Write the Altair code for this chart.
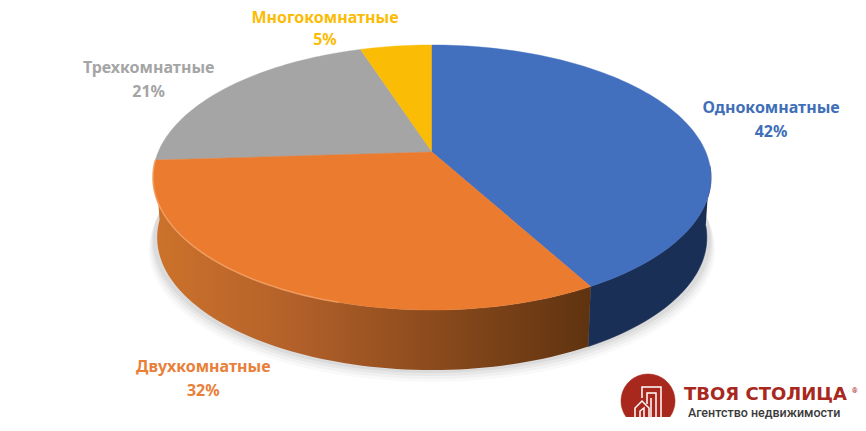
import math
import altair as alt
import pandas as pd

# --- data -----------------------------------------------------------------
categories = ["Однокомнатные", "Двухкомнатные", "Трехкомнатные", "Многокомнатные"]
shares = [42, 32, 21, 5]
colors = ["#4270BF", "#EB7B2F", "#A5A5A5", "#FBBC05"]
label_colors = ["#3F6FB8", "#E97F38", "#A5A5A5", "#FBBC05"]
brand_name = "ТВОЯ СТОЛИЦА"
brand_tag = "Агентство недвижимости"

# --- geometry of the tilted pie (image pixels) ------------------------------
W, H = 850, 415
OFF = 8
CX, CY = 432, 152      # projected pie centre
A, B, K = 273.8, 127.6, 0.1925
DEPTH = 60
BOTTOM_SCALE = 0.985
LABEL_OFFSETS = [(86, -2), (-70, 92), (-79, -7), (-71, -17)]
STEPS = 1.5  # degrees per rim sample


def rim(t_deg, scale=1.0, dy=0.0):
    t = math.radians(t_deg)
    u, v = math.sin(t), math.cos(t)
    d = 1 + K * v
    return CX + scale * A * u / d, CY + B * -v / d + dy


def arc(t0, t1, scale=1.0, dy=0.0):
    n = max(2, int(abs(t1 - t0) / STEPS) + 1)
    return [rim(t0 + (t1 - t0) * i / (n - 1), scale, dy) for i in range(n)]


x_scale = alt.Scale(domain=[OFF, OFF + W], range=[0, W], nice=False, zero=False)
y_scale = alt.Scale(domain=[OFF, OFF + H], range=[0, H], nice=False, zero=False)


def poly(points, fill, stroke_width=0.6, stroke=None, opacity=1.0, fill_on=True):
    df = pd.DataFrame(points, columns=["x", "y"])
    df["i"] = range(len(df))
    kw = dict(strokeWidth=stroke_width, opacity=opacity, clip=False, interpolate="linear")
    if fill_on:
        kw["fill"] = fill
    kw["stroke"] = stroke if stroke else (fill if isinstance(fill, str) else "#8a4a1c")
    return alt.Chart(df).mark_line(**kw).encode(
        x=alt.X("x:Q", scale=x_scale, axis=None),
        y=alt.Y("y:Q", scale=y_scale, axis=None),
        order="i:Q",
    )


def text(x, y, s, color, size, weight="bold", font="Noto Sans", align="center"):
    return alt.Chart(pd.DataFrame({"x": [x], "y": [y], "s": [s]})).mark_text(
        font=font, fontSize=size, fontWeight=weight, color=color, align=align, baseline="middle"
    ).encode(
        x=alt.X("x:Q", scale=x_scale, axis=None),
        y=alt.Y("y:Q", scale=y_scale, axis=None),
        text="s:N",
    )


# cumulative angles
bounds = [0.0]
for s in shares:
    bounds.append(bounds[-1] + s * 3.6)

layers = []

# soft shadow below the disc
for grow, dy, op in [(1.015, DEPTH + 12, 0.025), (1.01, DEPTH + 9, 0.03), (1.005, DEPTH + 6, 0.04), (1.0, DEPTH + 3, 0.05)]:
    layers.append(poly(arc(0, 360, grow, dy), "#000000", 0, "#000000", op))

# side walls
blue_wall = arc(96, bounds[1]) + arc(bounds[1], 96, BOTTOM_SCALE, DEPTH)
layers.append(poly(blue_wall, "#1A2F55", 0.6))
orange_grad = alt.Gradient(
    gradient="linear", x1=0, x2=1, y1=0, y2=0,
    stops=[
        alt.GradientStop(color="#CC722B", offset=0),
        alt.GradientStop(color="#B5622A", offset=0.3),
        alt.GradientStop(color="#8A4A1C", offset=0.65),
        alt.GradientStop(color="#5F3310", offset=1),
    ],
)
orange_wall = arc(bounds[1], bounds[2]) + arc(bounds[2], bounds[1], BOTTOM_SCALE, DEPTH)
layers.append(poly(orange_wall, orange_grad, 0))

# top faces
for i in [2, 3, 0, 1]:
    pts = [(CX, CY)] + arc(bounds[i], bounds[i + 1]) + [(CX, CY)]
    layers.append(poly(pts, colors[i], 0.4))

# rim highlight on the orange slice
layers.append(poly(arc(bounds[1] + 45, bounds[2]), None, 1.6, "#F4A165", 0.8, fill_on=False))

# labels
for i, cat in enumerate(categories):
    mid = (bounds[i] + bounds[i + 1]) / 2
    px, py = rim(mid, 1.0)
    dx, dy = LABEL_OFFSETS[i]
    lx, ly = px + dx, py + dy
    gap = 11 if i == 3 else 12
    layers.append(text(lx, ly - gap, cat, label_colors[i], 16))
    layers.append(text(lx, ly + gap, f"{shares[i]}%", label_colors[i], 16))

# logo: red disc cut at the bottom, white building lines
LOGO_CX, LOGO_CY, LOGO_R = 648, 401, 27
ang0 = math.degrees(math.asin(16 / LOGO_R))
disc = [
    (LOGO_CX + LOGO_R * math.cos(math.radians(a)), LOGO_CY - LOGO_R * math.sin(math.radians(a)))
    for a in [(-ang0) + (180 + 2 * ang0) * j / 90 for j in range(91)]
]
layers.append(poly(disc, "#A9281E", 0.5))
building = [
    [(-13, 16), (-13, 7), (-6, 0), (1, 7), (1, 16)],
    [(-8, 16), (-8, 10), (-4, 7), (-4, 16)],
    [(-6, -3), (-6, -14), (13, -14), (13, 16)],
    [(-1, 3), (-1, -8), (8, -8), (8, 16)],
    [(3, 16), (3, -3)],
]
for seg in building:
    layers.append(poly([(LOGO_CX + x, LOGO_CY + y) for x, y in seg], None, 1.5, "#FFFFFF", fill_on=False))

layers.append(text(684, 395, brand_name, "#A9281E", 18, align="left", font="DejaVu Sans", weight=700))
layers.append(text(852, 391, "®", "#A9281E", 7, align="left", font="Roboto"))
layers.append(text(688, 413, brand_tag, "#3A3A3A", 12.5, align="left", font="Roboto", weight=500))

chart = alt.layer(*layers).properties(width=W, height=H, padding=0, autosize="none").configure_view(strokeWidth=0)
chart.save("out.html", embed_options={"renderer": "svg", "actions": False})
